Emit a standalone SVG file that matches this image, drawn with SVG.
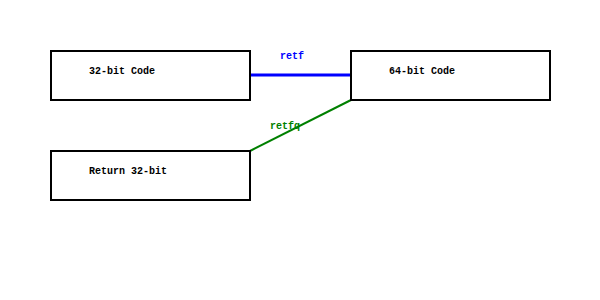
<svg xmlns="http://www.w3.org/2000/svg" width="600" height="300" viewBox="0 0 600 300">
  <style>
    .box { fill: #ffffff; stroke: #000000; stroke-width: 2; }
    .label { font-family: "Liberation Mono", "DejaVu Sans Mono", monospace; font-size: 10px; font-weight: bold; fill: #000000; }
    .edge-label { font-family: "Liberation Mono", "DejaVu Sans Mono", monospace; font-size: 10px; font-weight: bold; }
  </style>
  <rect width="600" height="300" fill="#ffffff"/>
  <g id="connectors">
    <line x1="250" y1="75" x2="351" y2="75" stroke="#0000ff" stroke-width="3"/>
    <text class="edge-label" x="280" y="59" fill="#0000ff">retf</text>
    <line x1="250" y1="151" x2="351" y2="100" stroke="#008000" stroke-width="2"/>
    <text class="edge-label" x="270" y="129" fill="#008000">retfq</text>
  </g>
  <g id="code32">
    <rect class="box" x="51" y="51" width="199" height="49"/>
    <text class="label" x="89" y="74">32-bit Code</text>
  </g>
  <g id="code64">
    <rect class="box" x="351" y="51" width="199" height="49"/>
    <text class="label" x="389" y="74">64-bit Code</text>
  </g>
  <g id="return32">
    <rect class="box" x="51" y="151" width="199" height="49"/>
    <text class="label" x="89" y="174">Return 32-bit</text>
  </g>
</svg>
